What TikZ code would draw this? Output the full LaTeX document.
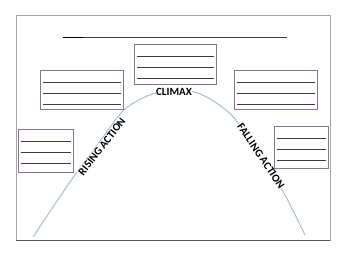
\documentclass[tikz,border=0pt]{standalone}
\usepackage{fontspec}
\setmainfont{Carlito}
\definecolor{curvec}{RGB}{165,190,210}
\definecolor{boxc}{RGB}{140,115,150}
\definecolor{rulec}{RGB}{60,60,60}
\definecolor{framec}{RGB}{165,165,165}
\definecolor{framebot}{RGB}{90,90,90}
\begin{document}
\begin{tikzpicture}[x=1pt,y=-1pt,
  notebox/.style={draw=boxc,line width=0.8pt,inner sep=0pt,anchor=north west,fill=white},
  writeline/.style={draw=rulec,line width=0.9pt},
  arclabel/.style={fill=white,inner sep=0.6pt,font=\fontsize{11}{13}\selectfont\bfseries},
  plotcurve/.style={draw=curvec,line width=1pt}]
\useasboundingbox (0,0) rectangle (350,270);
% frame
\draw[framec,line width=0.8pt] (16,240.5) -- (16,15.7) -- (330,15.7) -- (330,240.5);
\draw[framebot,line width=1pt] (15.6,240.5) -- (330.4,240.5);
% title line
\coordinate (tl) at (63,37.5);
\coordinate (tr) at (287,37.5);
\draw[rulec,line width=0.8pt] (tl) -- (tr);
\draw[black,line width=1.3pt] (tl) -- ++(20,0);
% curve
\draw[plotcurve] plot[smooth,tension=0.55] coordinates {(33.3,236.7) (72,179) (97,145.5) (122,112) (140,99.5) (156,93) (175,90) (196,92.5) (215,102) (235,119) (261,156) (285,195) (305,235)};
% labels
\node[arclabel,rotate=52] (rising) at (102,146.5) {RISING ACTION};
\node[arclabel] (climax) at (174,91.5) {CLIMAX};
\node[arclabel,rotate=-56] (falling) at (261,156) {FALLING ACTION};
% boxes
\node[notebox,minimum width=81.7pt,minimum height=40pt] (b3) at (134.3,44.3) {};
\node[notebox,minimum width=82.7pt,minimum height=39.3pt] (b2) at (40,70) {};
\node[notebox,minimum width=83pt,minimum height=39.3pt] (b4) at (234.3,70) {};
\node[notebox,minimum width=55pt,minimum height=42.4pt] (b1) at (18,129.3) {};
\node[notebox,minimum width=54pt,minimum height=41.7pt] (b5) at (273.7,126) {};
\foreach \b in {b1,b2,b3,b4,b5}{
  \foreach \o in {12.5,23.5,34.5}{
    \draw[writeline] ([xshift=3pt,yshift=-\o pt]\b.north west) -- ([xshift=-3pt,yshift=-\o pt]\b.north east);
  }
}
\end{tikzpicture}
\end{document}
